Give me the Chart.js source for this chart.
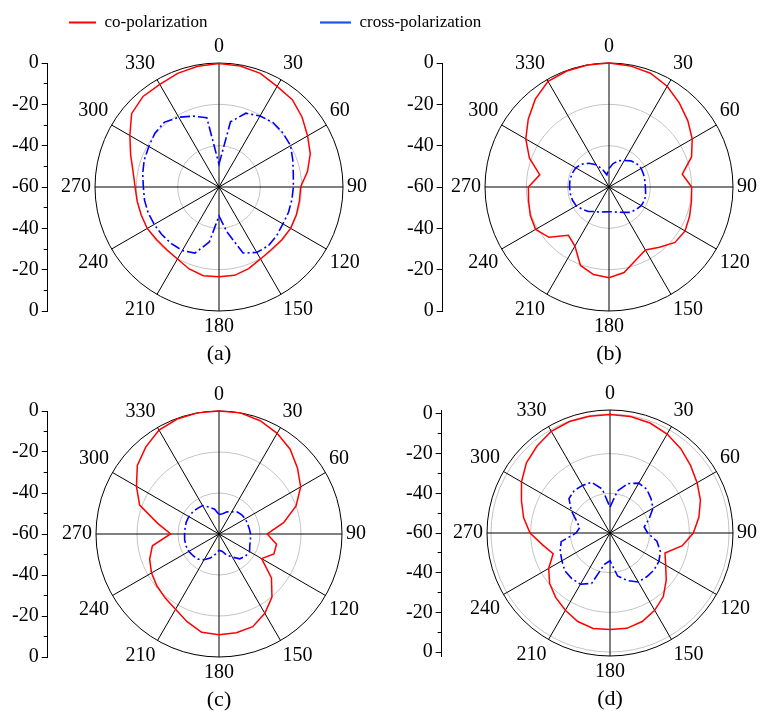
<!DOCTYPE html>
<html><head><meta charset="utf-8">
<script src="https://cdn.jsdelivr.net/npm/chart.js@4.4.1/dist/chart.umd.min.js"></script>
<style>
html,body{margin:0;padding:0;background:#fff;}
#wrap{position:relative;width:762px;height:711px;overflow:hidden;background:#fff;}
canvas{position:absolute;}
</style>
</head><body><div id="wrap"></div>
<script>
// ---------- DATA ----------
const angles = [0,10,20,30,40,50,60,70,80,90,100,110,120,130,140,150,160,170,180,190,200,210,220,230,240,250,260,270,280,290,300,310,320,330,340,350];

const coA    = [-0.3,-0.6,-1.5,-3.8,-4.8,-7.5,-10.5,-13,-16.5,-20.5,-20.5,-20.2,-20,-20.3,-20.5,-19.8,-18,-16.6,-16.6,-16.4,-17.8,-19.8,-20.5,-20.5,-19.9,-20,-19.8,-19.4,-17.8,-14.5,-10.2,-4.8,-2.8,-2.7,-1.5,-0.7];
const crossA = [-49,-28,-22,-20.3,-19.3,-19.5,-20,-22,-23.5,-24,-24.2,-24.2,-24.3,-23.5,-22.9,-23.4,-26,-38,-46,-33,-26,-24.5,-24.2,-24,-23.8,-23.5,-23.4,-23.4,-22.5,-21.5,-20.8,-19.5,-19,-21,-23.5,-26];

const coB    = [0,-0.5,-1.4,-3.7,-7,-10.2,-13.5,-17.5,-24,-20,-19.5,-18.5,-17.5,-18.3,-22,-24.8,-22.3,-18,-16.1,-17,-19.6,-27,-29.5,-22.1,-19,-19.5,-20.5,-21,-26,-19,-13.5,-9,-4.5,-1,-0.3,-0.1];
const crossB = [-51,-48.5,-46.5,-45.2,-43.5,-42.5,-42,-42.2,-42.4,-42.4,-42,-41.6,-42,-43,-44,-45.8,-47,-47.8,-48,-47.8,-47,-46.3,-44.5,-43.2,-41.7,-41.2,-41,-40.9,-40.8,-41,-41.4,-42.8,-45,-47.6,-51,-54];

const coC    = [0,0,-1.2,-3.3,-6,-10,-14,-20,-28,-36.5,-31.5,-31.5,-36,-26.6,-19.8,-15.3,-11.9,-11.1,-10.8,-11.3,-14.5,-17.6,-19.2,-20.5,-22,-24,-27,-36.4,-29.5,-18.8,-13.5,-8,-4.5,-1.5,-0.3,0];
const crossC = [-50.5,-50,-48.5,-47.5,-46,-45.5,-45.2,-45.2,-45,-44.6,-44.4,-44,-42.8,-43.2,-44.2,-47,-49,-51.5,-52,-50,-47.5,-45.5,-44,-43.5,-43,-42.9,-43,-43.2,-43.2,-43,-43,-43.3,-43.7,-44,-46,-47.7];

const coD    = [-0.3,-0.4,-1,-2.4,-4.5,-7,-9.3,-11.5,-14.5,-18,-23,-30.5,-27.6,-23,-18.2,-15,-12.5,-11.2,-11.3,-11.1,-12.5,-15,-17.5,-20.3,-24.3,-29.5,-25.5,-19.7,-15.8,-12.5,-8.5,-5,-2.8,-0.8,-0.2,-0.2];
const crossD = [-47,-38.5,-33.5,-31,-31.2,-33,-35,-39,-42.5,-41,-36,-33,-31.5,-31,-31.2,-31.5,-34.5,-38,-46,-44,-33,-30.2,-30,-30.3,-32,-33.3,-35,-42.9,-44.5,-42,-37.5,-33,-32,-32.3,-32.8,-37.5];

const radialTicks  = [-60,-40,-20,0];
const radialTicksD = [-60,-40,-20,0,2];
const axisMajor = [-60,-40,-20,0,20,40,60];
const axisMinor = [-50,-30,-10,10,30,50];
const panelLabels = ['(a)','(b)','(c)','(d)'];
const seriesNames = ['co-polarization','cross-polarization'];

// ---------- LAYOUT ----------
Chart.defaults.font.family = 'Liberation Serif';
Chart.defaults.color = '#000';
const wrap = document.getElementById('wrap');
function addCanvas(w,h){const c=document.createElement('canvas');c.width=w;c.height=h;wrap.appendChild(c);return c;}

const RED='#ff0000', BLUE='#0000ff';
const panels = [
  {co:coA, cross:crossA, title:panelLabels[0], cx:219, cy:187, R:124, max:0, rt:radialTicks,  axisX:48,  minor:true},
  {co:coB, cross:crossB, title:panelLabels[1], cx:609, cy:187, R:124, max:0, rt:radialTicks,  axisX:443, minor:false},
  {co:coC, cross:crossC, title:panelLabels[2], cx:219, cy:534, R:123, max:0, rt:radialTicks,  axisX:48,  minor:true},
  {co:coD, cross:crossD, title:panelLabels[3], cx:610, cy:533, R:123, max:2, rt:radialTicksD, axisX:442, minor:true}
];

function radarConfig(p){
  return {
    type:'radar',
    data:{labels:angles, datasets:[
      {label:seriesNames[0], data:p.co, borderColor:RED, borderWidth:1.5, pointRadius:0, fill:false, tension:0},
      {label:seriesNames[1], data:p.cross, borderColor:BLUE, borderWidth:1.6, borderDash:[10,3,2,3], pointRadius:0, fill:false, tension:0}
    ]},
    options:{
      responsive:false, maintainAspectRatio:false, animation:false,
      layout:{padding:0},
      plugins:{
        legend:{display:false}, tooltip:{enabled:false},
        title:{display:true, text:p.title, position:'bottom', color:'#000',
               font:{family:'Liberation Serif', size:22, weight:'normal'}, padding:{top:0,bottom:0}}
      },
      scales:{r:{
        min:-60, max:p.max, startAngle:0,
        afterBuildTicks:(s)=>{s.ticks=p.rt.map(v=>({value:v}));},
        ticks:{display:false},
        grid:{circular:true,
              color:(c)=> (c.tick && c.tick.value===p.max) ? '#000' : '#c4c4c4',
              lineWidth:(c)=> c.index===0 ? 0 : 1},
        angleLines:{color:'#000', lineWidth:(c)=> (angles[c.index]%30===0) ? 1 : 0},
        pointLabels:{display:true, color:'#000', padding:4,
              font:{family:'Liberation Serif', size:20},
              callback:(l,i)=> (angles[i]%30===0) ? String(angles[i]) : ''}
      }}
    }
  };
}

function radarPanel(p){
  const W=420; let H=2*p.R+90, chart, cv;
  for(let k=0;k<5;k++){
    cv=addCanvas(W,H); chart=new Chart(cv, radarConfig(p));
    const d=p.R-chart.scales.r.drawingArea;
    if(Math.abs(d)<0.5||k===4) break;
    chart.destroy(); cv.remove(); H+=Math.round(2*d);
  }
  const r=chart.scales.r;
  cv.style.left=Math.round(p.cx-r.xCenter)+'px';
  cv.style.top=Math.round(p.cy-r.yCenter)+'px';
}

function axisConfig(p, lim){
  const scales = {
    x:{display:false},
    y:{type:'linear', position:'left', weight:1, min:-lim, max:lim,
       afterBuildTicks:(s)=>{s.ticks=axisMajor.map(v=>({value:v}));},
       ticks:{autoSkip:false, padding:3, color:'#000', font:{family:'Liberation Serif', size:20},
              callback:(v)=> String(Math.abs(v)-60)},
       grid:{display:true, drawOnChartArea:false, drawTicks:true, tickLength:6, tickColor:'#000', tickWidth:1},
       border:{display:true, color:'#000', width:1}}
  };
  if(p.minor){
    scales.y2 = {type:'linear', position:'left', weight:0, min:-lim, max:lim,
       afterBuildTicks:(s)=>{s.ticks=axisMinor.map(v=>({value:v}));},
       afterFit:(s)=>{s.width=0;},
       ticks:{display:false},
       grid:{display:true, drawOnChartArea:false, drawTicks:true, tickLength:4, tickColor:'#000', tickWidth:1},
       border:{display:false}};
  }
  return {type:'scatter', data:{datasets:[]},
    options:{responsive:false, maintainAspectRatio:false, animation:false,
      plugins:{legend:{display:false}, tooltip:{enabled:false}}, scales}};
}

function axisPanel(p){
  const lim=60+p.max; const W=220; let H=2*p.R+40, chart, cv;
  for(let k=0;k<5;k++){
    cv=addCanvas(W,H); chart=new Chart(cv, axisConfig(p, lim));
    const s=chart.scales.y;
    const span=s.getPixelForValue(-lim)-s.getPixelForValue(lim);
    const d=Math.round(2*p.R-span);
    if(d===0||k===4) break;
    chart.destroy(); cv.remove(); H+=d;
  }
  const s=chart.scales.y;
  cv.style.left=Math.round(p.axisX-s.right)+'px';
  cv.style.top=Math.round(p.cy-s.getPixelForValue(0))+'px';
}

function legendItem(label, color, dash, width, boxW, tx, ty){
  const cv=addCanvas(300,120);
  const chart=new Chart(cv,{type:'line',
    data:{labels:[], datasets:[{label, data:[], borderColor:color, backgroundColor:color, borderWidth:width, borderDash:dash}]},
    options:{responsive:false, maintainAspectRatio:false, animation:false,
      scales:{x:{display:false}, y:{display:false}},
      plugins:{tooltip:{enabled:false},
        legend:{display:true, position:'top', align:'start',
          labels:{usePointStyle:true, pointStyle:'line', pointStyleWidth:boxW, boxHeight:17, color:'#000', padding:10,
                  font:{family:'Liberation Serif', size:17}}}}}});
  const hb=chart.legend.legendHitBoxes[0];
  cv.style.left=Math.round(tx-hb.left)+'px';
  cv.style.top=Math.round(ty-(hb.top+hb.height/2))+'px';
}

panels.forEach(p=>{ radarPanel(p); axisPanel(p); });
legendItem(seriesNames[0], RED, [], 2, 27, 69, 22);
legendItem(seriesNames[1], '#1a55e8', [2,4,2,4,2,4,14,0], 2.2, 31, 320, 22);
</script>
</body></html>
